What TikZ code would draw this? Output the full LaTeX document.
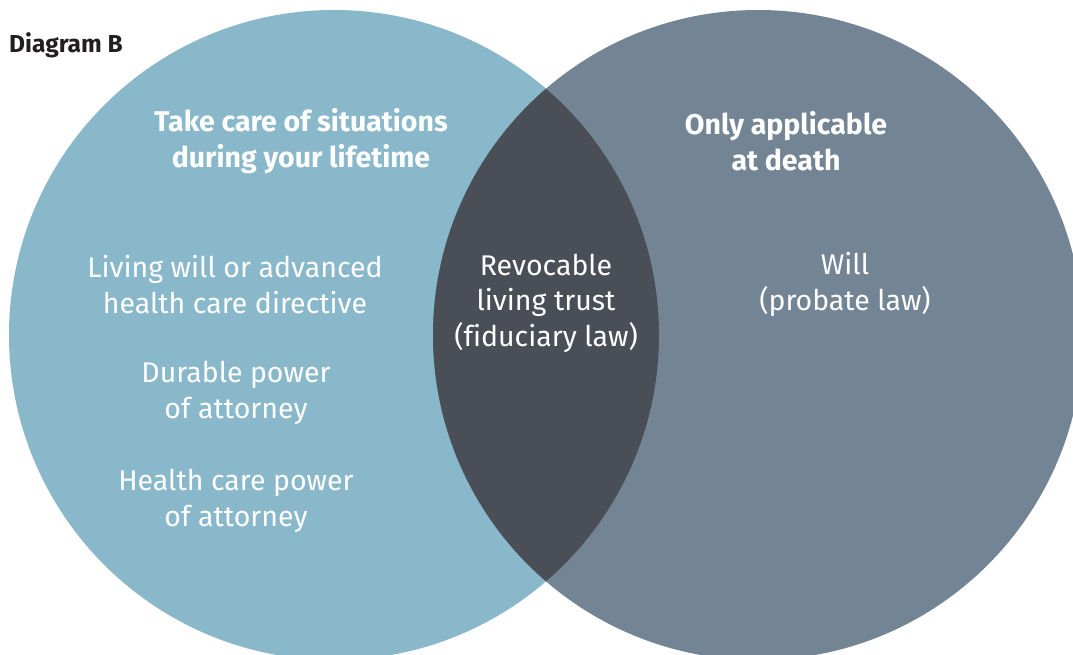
\documentclass[tikz,border=0pt]{standalone}
\usepackage{fontspec}
\setmainfont{Fira Sans}[Ligatures=CommonOff]
\definecolor{leftc}{HTML}{8AB8CB}
\definecolor{rightc}{HTML}{738594}
\definecolor{lensc}{HTML}{4A4F57}
\definecolor{titlec}{HTML}{231F20}
\begin{document}
\begin{tikzpicture}[x=1pt,y=-1pt,
  lbl/.style={text=white,align=center,font=\fontsize{28.5}{35.5}\selectfont,inner sep=0pt},
  head/.style={text=white,align=center,font=\fontsize{28.5}{36}\selectfont\bfseries,inner sep=0pt}]
\useasboundingbox (0,0) rectangle (1073,654);
\begin{scope}
\clip (0,0) rectangle (1073,654);
\fill[leftc] (334,335) circle (325);
\fill[rightc] (758,335) circle (325);
\begin{scope}
\clip (334,335) circle (325);
\fill[lensc] (758,335) circle (325);
\end{scope}
\end{scope}
\node[anchor=west,inner sep=0pt,text=titlec,font=\fontsize{24.5}{28}\selectfont\bfseries] (title) at (9,45) {Diagram B};
\node[head] (lifetime) at (301,141) {Take care of situations\\during your lifetime};
\node[head] (death) at (786,141) {Only applicable\\at death};
\node[lbl] (living) at (235,284.5) {Living will or advanced\\health care directive};
\node[lbl] (durable) at (236,393) {Durable power\\of attorney};
\node[lbl] (health) at (236,501) {Health care power\\of attorney};
\node[lbl] (trust) at (546,303) {Revocable\\living trust\\(fiduciary law)};
\node[lbl] (will) at (845,284.5) {Will\\(probate law)};
\end{tikzpicture}
\end{document}
